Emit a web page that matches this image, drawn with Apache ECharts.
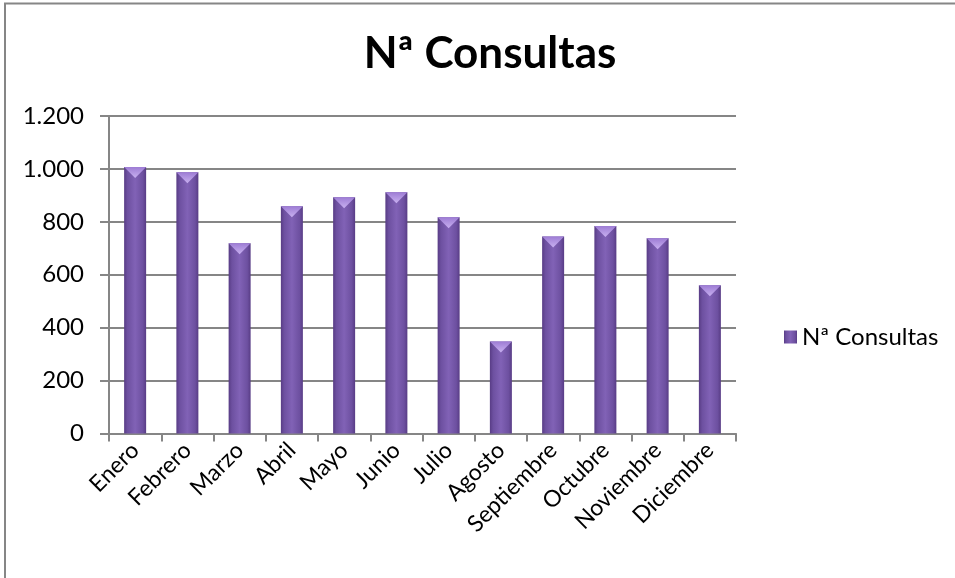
<!DOCTYPE html>
<html>
<head>
<meta charset="utf-8">
<script src="https://cdn.jsdelivr.net/npm/echarts@6/dist/echarts.min.js"></script>
<style>
html,body{margin:0;padding:0;background:#fff;}
#c{width:955px;height:578px;}
</style>
</head>
<body>
<div id="c"></div>
<script>
var title = 'Nª Consultas';
var seriesName = 'Nª Consultas';
var categories = ['Enero','Febrero','Marzo','Abril','Mayo','Junio','Julio','Agosto','Septiembre','Octubre','Noviembre','Diciembre'];
var values = [1007, 987, 719, 859, 893, 912, 817, 348, 745, 784, 738, 560];
var yTicks = [0, 200, 400, 600, 800, 1000, 1200];

var FONT = 'Lato';
var chart = echarts.init(document.getElementById('c'), null, {renderer: 'canvas'});
var bodyGrad = new echarts.graphic.LinearGradient(0, 0, 1, 0, [
  {offset: 0, color: '#583c85'},
  {offset: 0.15, color: '#6d50a0'},
  {offset: 0.5, color: '#8162b6'},
  {offset: 0.85, color: '#6d50a0'},
  {offset: 1, color: '#583c85'}
]);
var capGrad = new echarts.graphic.LinearGradient(0, 0, 0, 1, [
  {offset: 0, color: '#c8b0f0'},
  {offset: 1, color: '#9d7cd4'}
]);
chart.setOption({
  animation: false,
  backgroundColor: '#ffffff',
  title: {
    text: title,
    left: 485 - 0,
    textAlign: 'center',
    top: 27,
    textStyle: {fontFamily: FONT, fontWeight: 'bold', fontSize: 44, color: '#000'}
  },
  legend: {
    data: [{name: seriesName, icon: 'rect'}],
    orient: 'vertical',
    left: 779,
    top: 320,
    itemWidth: 13,
    itemHeight: 13,
    itemGap: 8,
    textStyle: {fontFamily: FONT, fontSize: 24, color: '#000'}
  },
  grid: {left: 109, right: 219, top: 116, bottom: 144.5, containLabel: false},
  xAxis: {
    type: 'category',
    data: categories,
    boundaryGap: true,
    axisLine: {lineStyle: {color: '#868686', width: 2}},
    axisTick: {show: true, alignWithLabel: false, length: 8, lineStyle: {color: '#868686', width: 2}},
    axisLabel: {rotate: 45, margin: 13, interval: 0, fontFamily: FONT, fontSize: 23, color: '#000'}
  },
  yAxis: {
    type: 'value',
    min: 0,
    max: 1200,
    interval: 200,
    axisLine: {show: true, lineStyle: {color: '#868686', width: 2}},
    axisTick: {show: true, length: 9, lineStyle: {color: '#868686', width: 2}},
    splitLine: {show: true, lineStyle: {color: '#868686', width: 2}},
    axisLabel: {
      margin: 25,
      fontFamily: FONT, fontSize: 24, color: '#000',
      formatter: function (v) { return String(v).replace(/\B(?=(\d{3})+(?!\d))/g, '.'); }
    }
  },
  series: [
    {
      name: seriesName,
      type: 'bar',
      data: values,
      barWidth: 22,
      itemStyle: {color: bodyGrad},
      z: 2
    },
    {
      name: 'cap',
      type: 'pictorialBar',
      data: values,
      symbol: 'triangle',
      symbolRotate: 180,
      symbolSize: [22, 11],
      symbolPosition: 'end',
      symbolOffset: [0, 0],
      itemStyle: {color: capGrad},
      silent: true,
      z: 3
    }
  ],
  graphic: [{
    type: 'rect',
    shape: {x: 5, y: 3.5, width: 1000, height: 700},
    style: {fill: null, stroke: '#868686', lineWidth: 2},
    silent: true
  }]
});
</script>
</body>
</html>
